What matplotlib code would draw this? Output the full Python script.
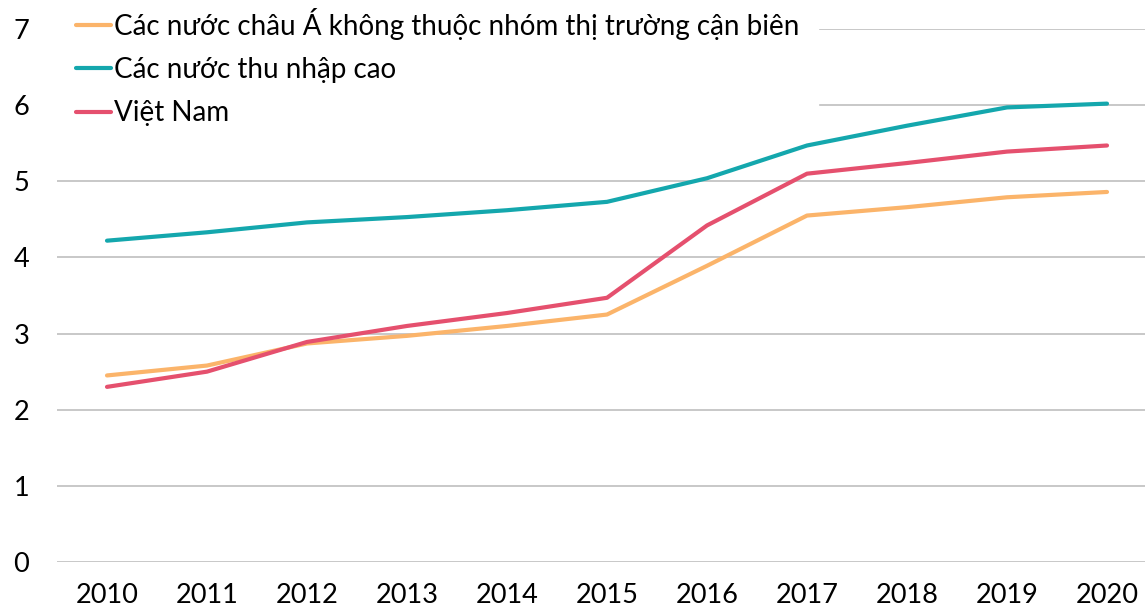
import numpy as np
import matplotlib
matplotlib.use("Agg")
import matplotlib.pyplot as plt

plt.rcParams['font.family'] = ['Lato', 'Noto Sans', 'DejaVu Sans']

years = [2010, 2011, 2012, 2013, 2014, 2015, 2016, 2017, 2018, 2019, 2020]

# Du lieu doc tu hinh
chau_a = [2.45, 2.58, 2.87, 2.97, 3.10, 3.25, 3.89, 4.55, 4.66, 4.79, 4.86]
thu_nhap_cao = [4.22, 4.33, 4.46, 4.53, 4.62, 4.73, 5.04, 5.47, 5.73, 5.97, 6.02]
viet_nam = [2.30, 2.50, 2.89, 3.10, 3.27, 3.47, 4.42, 5.10, 5.24, 5.39, 5.47]

labels = ["Các nước châu Á không thuộc nhóm thị trường cận biên",
          "Các nước thu nhập cao",
          "Việt Nam"]
colors = ["#FBB46A", "#14A7AD", "#E5506E"]

W, H = 1145, 612
fig = plt.figure(figsize=(W / 100, H / 100), dpi=100)
ax = fig.add_axes([57 / W, (H - 562) / H, (1157 - 57) / W, (562 - 29) / H])

for vals, lab, c in zip([chau_a, thu_nhap_cao, viet_nam], labels, colors):
    ax.plot(years, vals, color=c, lw=3, label=lab, solid_capstyle='round', zorder=3)

ax.set_xlim(2009.5, 2020.5)
ax.set_ylim(0, 7)
ax.set_xticks(years)
ax.set_yticks(range(0, 8))
ax.grid(axis='y', color='#BFBFBF', lw=1.2)
ax.set_axisbelow(True)
for s in ax.spines.values():
    s.set_visible(False)
ax.tick_params(length=0, labelsize=19.5, colors='black')
ax.tick_params(axis='y', pad=20)
ax.tick_params(axis='x', pad=15)

# legend nam duoi cac duong nhung che luoi
leg = ax.legend(loc='upper left', bbox_to_anchor=(0, 1.076), fontsize=20,
                frameon=True, fancybox=False, framealpha=1, edgecolor='white',
                handlelength=1.26, handletextpad=0.08, labelspacing=0.62,
                borderpad=0.7, borderaxespad=0)
leg.set_zorder(2)

fig.savefig("out.png", dpi=100)
